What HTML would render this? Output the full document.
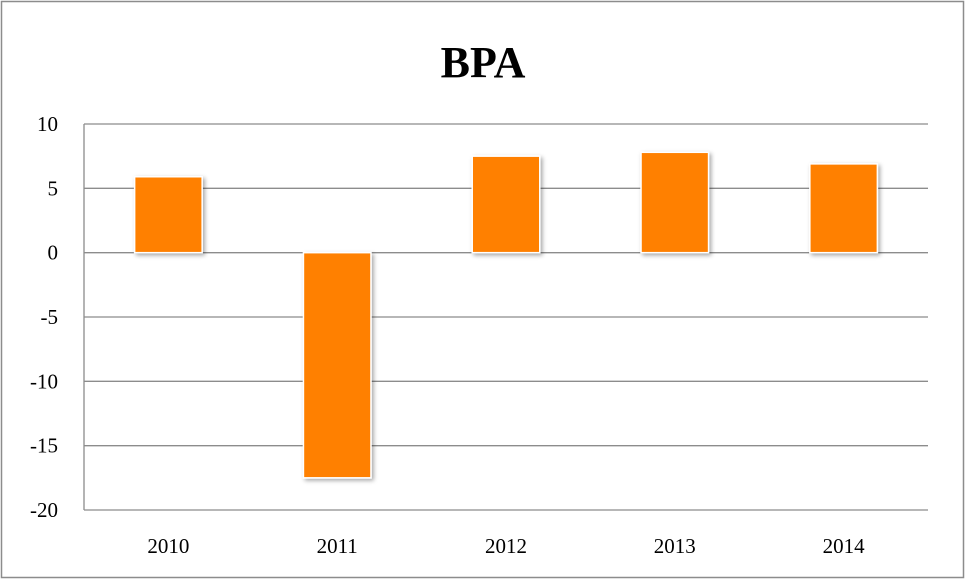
<!DOCTYPE html>
<html><head><meta charset="utf-8"><style>
html,body{margin:0;padding:0;background:#fff;}
svg{display:block;}
</style></head><body>
<svg id="chart" width="967" height="583" xmlns="http://www.w3.org/2000/svg">
<defs><filter id="sh" x="-20%" y="-20%" width="150%" height="150%"><feDropShadow dx="2" dy="2" stdDeviation="2" flood-color="#000" flood-opacity="0.35"/></filter></defs>
<rect x="1.5" y="1.5" width="962" height="576" fill="#fff" stroke="#8c8c8c" stroke-width="1.5"/>
<text x="483" y="77" text-anchor="middle" font-family="Liberation Serif, serif" font-weight="bold" font-size="44">BPA</text>
<g id="grid"></g><g id="bars"></g><g id="labels"></g>
</svg>
<script>
const categories = ["2010","2011","2012","2013","2014"];
const values = [5.9, -17.5, 7.5, 7.8, 6.9];
const yTicks = [10, 5, 0, -5, -10, -15, -20];
const yMin = -20, yMax = 10;
const L = 84, R = 928, T = 124, B = 510;
const NS = "http://www.w3.org/2000/svg";
function y(v){ return B - (v - yMin) / (yMax - yMin) * (B - T); }
function xBand(i){ return L + i * (R - L) / categories.length; }
const bw = (R - L) / categories.length;
const grid = document.getElementById('grid');
const bars = document.getElementById('bars');
const labels = document.getElementById('labels');
yTicks.forEach(t => {
  const ln = document.createElementNS(NS, 'line');
  
  
  ln.setAttribute('x1', L); ln.setAttribute('x2', R);
  ln.setAttribute('y1', y(t)); ln.setAttribute('y2', y(t));
  ln.setAttribute('stroke', '#8c8c8c'); ln.setAttribute('stroke-width', '1.3');
  grid.appendChild(ln);
  const tx = document.createElementNS(NS, 'text');
  
  
  tx.setAttribute('x', 58); tx.setAttribute('y', y(t) + 7);
  tx.setAttribute('text-anchor', 'end');
  tx.setAttribute('font-family', 'Liberation Serif, serif');
  tx.setAttribute('font-size', '21');
  tx.textContent = t;
  labels.appendChild(tx);
});
const ax = document.createElementNS(NS, 'line');


ax.setAttribute('x1', L); ax.setAttribute('x2', L);
ax.setAttribute('y1', T); ax.setAttribute('y2', B);
ax.setAttribute('stroke', '#8c8c8c'); ax.setAttribute('stroke-width', '1.3');
grid.appendChild(ax);
categories.forEach((c, i) => {
  const v = values[i];
  const cx = xBand(i) + bw / 2;
  const w = bw * 0.4;
  const r = document.createElementNS(NS, 'rect');
  
  
  r.setAttribute('x', cx - w / 2);
  r.setAttribute('y', Math.min(y(v), y(0)));
  r.setAttribute('width', w);
  r.setAttribute('height', Math.abs(y(v) - y(0)));
  r.setAttribute('fill', '#ff8000');
  r.setAttribute('stroke', '#ffffff');
  r.setAttribute('stroke-width', '1.5');
  r.setAttribute('filter', 'url(#sh)');
  bars.appendChild(r);
  const tx = document.createElementNS(NS, 'text');
  
  
  tx.setAttribute('x', cx); tx.setAttribute('y', 553);
  tx.setAttribute('text-anchor', 'middle');
  tx.setAttribute('font-family', 'Liberation Serif, serif');
  tx.setAttribute('font-size', '21');
  tx.textContent = c;
  labels.appendChild(tx);
});
</script>
</body></html>
